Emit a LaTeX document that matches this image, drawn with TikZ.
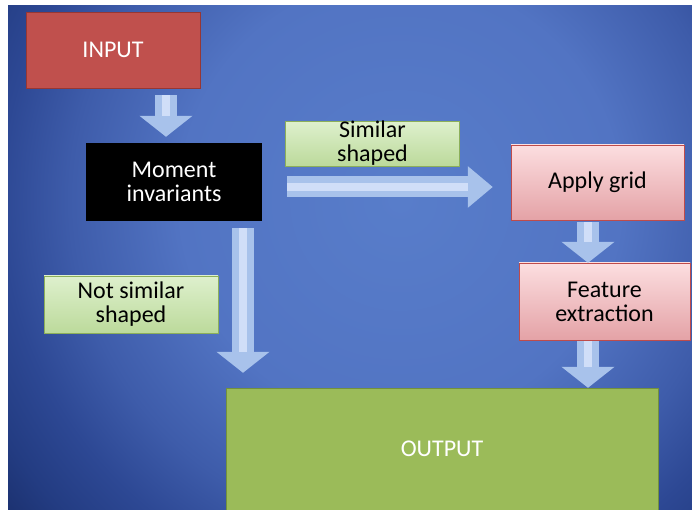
\documentclass[tikz,border=0pt]{standalone}
\usepackage{fontspec}
\setmainfont{Carlito}
\usetikzlibrary{arrows.meta,positioning}
\definecolor{bgA}{RGB}{88,125,202}
\definecolor{bgB}{RGB}{82,116,195}
\definecolor{bgC}{RGB}{62,92,170}
\definecolor{bgD}{RGB}{45,72,148}
\definecolor{bgE}{RGB}{35,60,130}
\definecolor{bgF}{RGB}{25,45,105}
\definecolor{myred}{RGB}{192,80,77}
\definecolor{myredline}{RGB}{150,55,52}
\definecolor{mypinktop}{RGB}{252,222,224}
\definecolor{mypinkbot}{RGB}{228,162,166}
\definecolor{mypinkline}{RGB}{190,75,75}
\definecolor{mygreentop}{RGB}{222,240,205}
\definecolor{mygreenbot}{RGB}{188,218,155}
\definecolor{mygreenline}{RGB}{140,175,90}
\definecolor{myolive}{RGB}{155,187,89}
\definecolor{myoliveline}{RGB}{115,145,60}
\definecolor{myarrow}{RGB}{168,194,235}
\definecolor{myarrowhi}{RGB}{208,222,248}
\pgfdeclareradialshading{slidebg}{\pgfpointorigin}{color(0bp)=(bgA); color(10.6bp)=(bgB); color(15.9bp)=(bgC); color(19.2bp)=(bgD); color(22.1bp)=(bgE); color(25bp)=(bgF); color(50bp)=(bgF)}

\begin{document}
\begin{tikzpicture}[x=1pt,y=1pt,
  box/.style={rectangle,inner sep=0pt,align=center,font=\fontsize{24}{24}\selectfont},
  inbox/.style={box,fill=myred,draw=myredline,text=white,minimum width=174pt,minimum height=76pt},
  momentbox/.style={box,fill=black,text=white,minimum width=176pt,minimum height=78pt},
  pinkbox/.style={box,top color=mypinktop,bottom color=mypinkbot,draw=mypinkline,text=black,minimum height=76pt},
  labelbox/.style={box,top color=mygreentop,bottom color=mygreenbot,draw=mygreenline,text=black,minimum width=174pt},
  outbox/.style={box,fill=myolive,draw=myoliveline,text=white,minimum width=432pt,minimum height=122pt},
  flow/.style={draw=myarrow,line width=22pt,-{Triangle[width=52pt,length=21pt]},
    postaction={draw=myarrowhi,line width=8pt,-,shorten >=21pt}},
  hflow/.style={draw=myarrow,line width=21pt,-{Triangle[width=40pt,length=25pt]},
    postaction={draw=myarrowhi,line width=8pt,-,shorten >=25pt}}]

  % background of the slide
  \useasboundingbox (0,0) rectangle (692,510);
  \fill[white] (0,0) rectangle (692,510);
  \begin{scope}
    \clip (8,0) rectangle (692,504);
    \shade[shading=slidebg] (400,310) circle (520);
  \end{scope}

  % boxes
  \node[inbox] (input) at (113,460) {INPUT};
  \node[momentbox] (moment) at (174,328) {Moment\\invariants};
  \node[labelbox,minimum height=43pt] (similar) at (372.5,366.5) {Similar\\shaped};
  \node[pinkbox,minimum width=173pt,minimum height=75pt] (applygrid) at (597.5,327.5) {Apply grid};
  \node[pinkbox,minimum width=171pt,minimum height=77pt] (feature) at (604.5,208.5) {Feature\\extraction};
  \node[labelbox,minimum height=57pt] (notsimilar) at (131,205.5) {Not similar\\shaped};
  \node[outbox] (output) at (442,61) {OUTPUT};

  % block arrows
  \draw[flow] ([xshift=53pt,yshift=-7pt]input.south) -- ([xshift=-8pt,yshift=6pt]moment.north);
  \draw[hflow] ([xshift=25pt,yshift=-5pt]moment.east) -- ([xshift=-18pt,yshift=-4.5pt]applygrid.west);
  \draw[flow] ([xshift=-9.5pt,yshift=-2pt]applygrid.south) -- ([xshift=-16.5pt]feature.north);
  \draw[flow] ([xshift=-16.5pt,yshift=-1pt]feature.south) -- ([xshift=146pt]output.north);
  \draw[flow] ([xshift=69pt,yshift=-7pt]moment.south) -- ([xshift=-199pt,yshift=15pt]output.north);

\end{tikzpicture}
\end{document}
